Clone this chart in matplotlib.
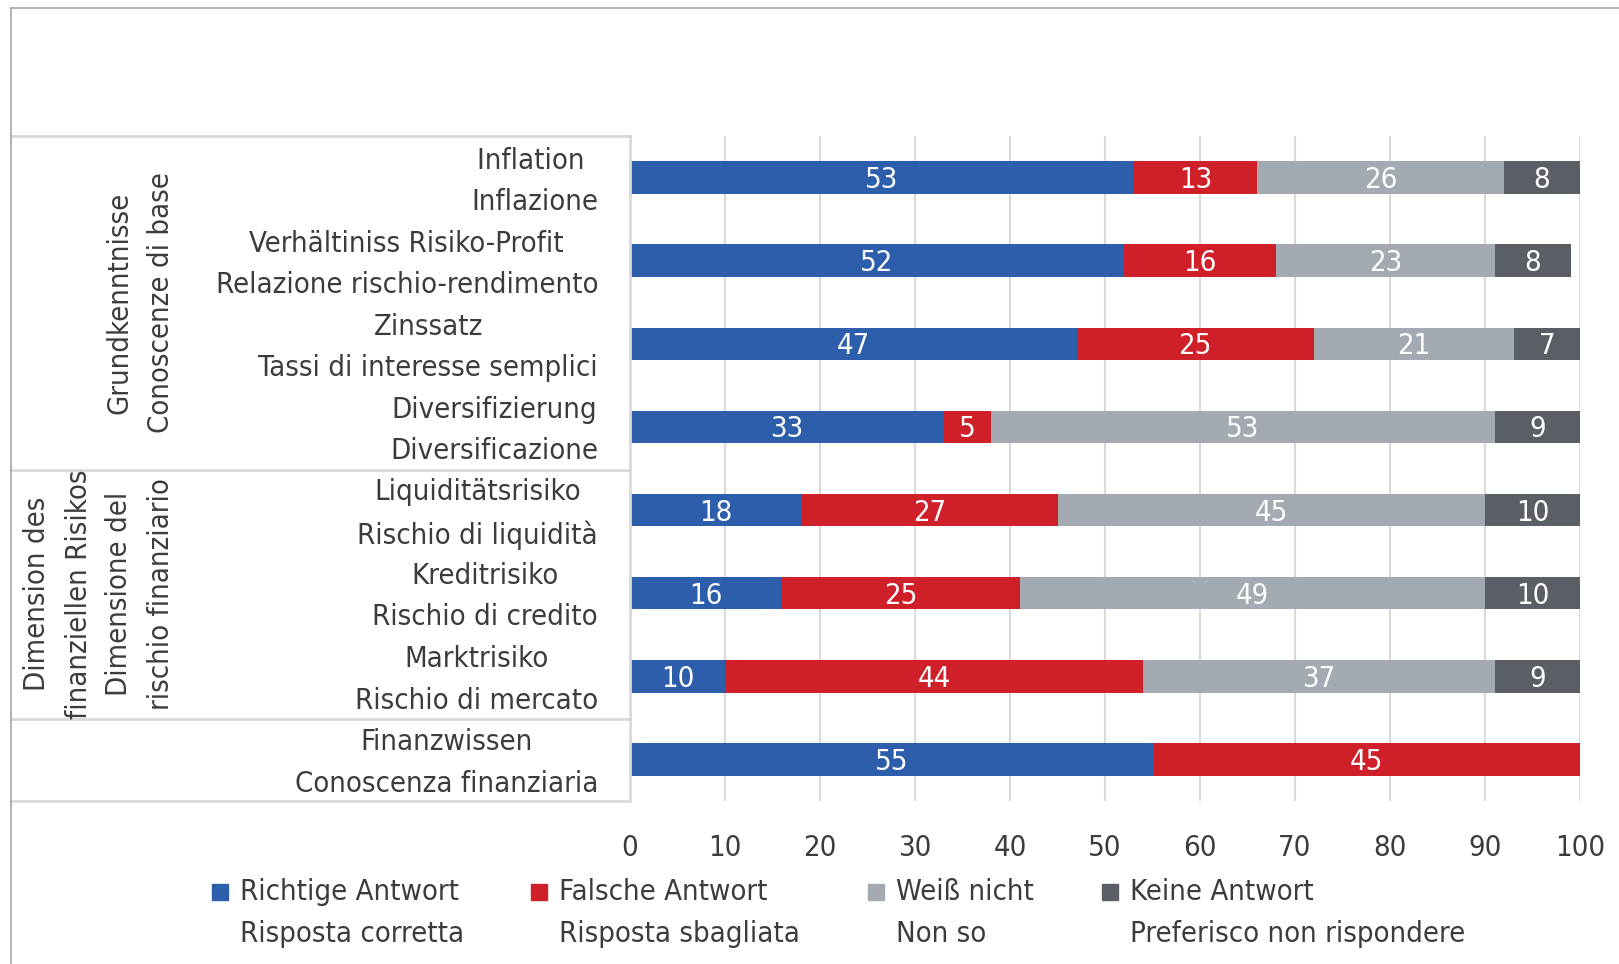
import numpy as np
import matplotlib.pyplot as plt
from matplotlib.lines import Line2D
from matplotlib.patches import Rectangle
from matplotlib.transforms import ScaledTranslation

plt.rcParams['font.family'] = ['DejaVu Sans']
plt.rcParams['font.stretch'] = 'condensed'

categories = [
    "Inflation \nInflazione",
    "Verhältiniss Risiko-Profit\nRelazione rischio-rendimento",
    "Zinssatz\nTassi di interesse semplici",
    "Diversifizierung\nDiversificazione",
    "Liquiditätsrisiko\nRischio di liquidità",
    "Kreditrisiko\nRischio di credito",
    "Marktrisiko\nRischio di mercato",
    "Finanzwissen\nConoscenza finanziaria",
]
richtig = [53, 52, 47, 33, 18, 16, 10, 55]
falsch = [13, 16, 25, 5, 27, 25, 44, 45]
weiss_nicht = [26, 23, 21, 53, 45, 49, 37, 0]
keine = [8, 8, 7, 9, 10, 10, 9, 0]

series = [
    (richtig, "#2d5eab", "Richtige Antwort\nRisposta corretta"),
    (falsch, "#cf1f29", "Falsche Antwort\nRisposta sbagliata"),
    (weiss_nicht, "#a4aab2", "Weiß nicht\nNon so"),
    (keine, "#5a5f66", "Keine Antwort\nPreferisco non rispondere"),
]

W, H = 1619, 964
fig = plt.figure(figsize=(W / 100, H / 100), dpi=100)
txt = "#3c3c3c"
fs = 21
ls = 1.6


def fx(px):
    return px / W


def fy(py):
    return 1 - py / H


ax = fig.add_axes([fx(630), fy(801), fx(1580) - fx(630), fy(136) - fy(801)])

y = np.arange(len(categories))
left = np.zeros(len(categories))
for vals, color, label in series:
    vals = np.array(vals)
    bars = ax.barh(y, vals, left=left, height=0.39, color=color, edgecolor='none')
    for b, v in zip(bars, vals):
        if v > 0:
            ax.text(b.get_x() + b.get_width() / 2, b.get_y() + b.get_height() / 2 + 0.03,
                    str(v), ha='center', va='center', color='white', fontsize=fs)
    left += vals

ax.set_xlim(0, 100)
ax.set_ylim(len(categories) - 0.5, -0.5)
ax.set_xticks(range(0, 101, 10))
ax.xaxis.grid(True, color='#d9d9d9', lw=1.5)
ax.set_axisbelow(True)
for s in ax.spines.values():
    s.set_visible(False)
ax.tick_params(axis='both', length=0, labelsize=fs, labelcolor=txt)
ax.tick_params(axis='x', pad=24)
ax.tick_params(axis='y', pad=23)
ax.set_yticks(y)
ax.set_yticklabels(categories)
shift_up = ScaledTranslation(0, 6 / 100, fig.dpi_scale_trans)
for t in ax.get_yticklabels():
    t.set_multialignment('center')
    t.set_linespacing(ls)
    t.set_transform(t.get_transform() + shift_up)

# table lines on the left
lc = '#d9d9d9'
for py in (136, 470, 719, 801):
    fig.add_artist(Line2D([fx(11), fx(630)], [fy(py), fy(py)], color=lc, lw=2))
fig.add_artist(Line2D([fx(630), fx(630)], [fy(136), fy(801)], color=lc, lw=2))

# outer frame
fig.add_artist(Line2D([fx(11), fx(1619)], [fy(8), fy(8)], color='#a6a6a6', lw=1.2))
fig.add_artist(Line2D([fx(11), fx(11)], [fy(8), fy(964)], color='#a6a6a6', lw=1.2))

# group labels
fig.text(fx(140), fy(303), "Grundkenntnisse\nConoscenze di base", rotation=90,
         ha='center', va='center', fontsize=fs, color=txt, linespacing=ls)
fig.text(fx(58), fy(594), "Dimension des\nfinanziellen Risikos", rotation=90,
         ha='center', va='center', fontsize=fs, color=txt, linespacing=ls)
fig.text(fx(140), fy(594), "Dimensione del\nrischio finanziario", rotation=90,
         ha='center', va='center', fontsize=fs, color=txt, linespacing=ls)

# legend
leg_x = [220, 539, 876, 1110]
for (vals, color, label), lx in zip(series, leg_x):
    fig.add_artist(Rectangle((fx(lx - 8), fy(900)), fx(16), fy(884) - fy(900),
                             color=color, transform=fig.transFigure))
    fig.text(fx(lx + 20), fy(913), label, ha='left', va='center', fontsize=fs,
             color=txt, linespacing=ls)

fig.savefig('out.png', dpi=100)
